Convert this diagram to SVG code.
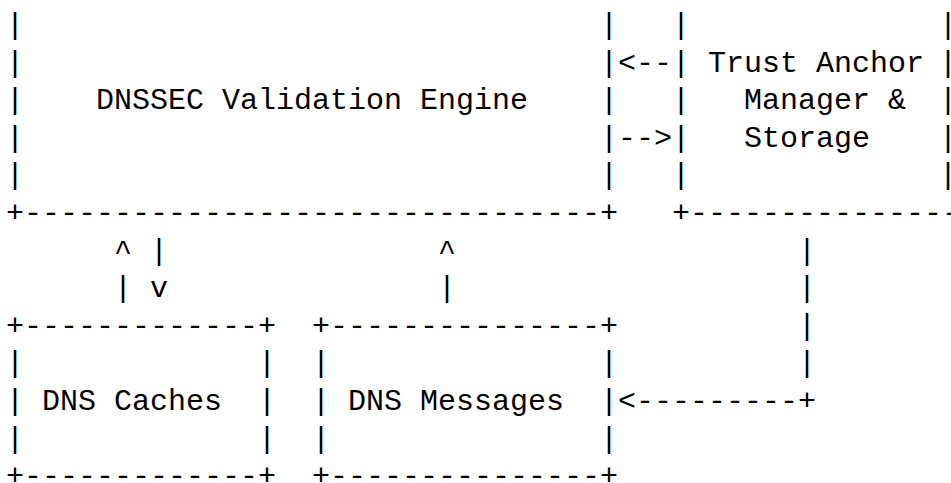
<svg xmlns="http://www.w3.org/2000/svg" width="951" height="483" viewBox="0 0 951 483" xml:space="preserve">
<style>
text{font-family:"Liberation Mono","DejaVu Sans Mono",monospace;font-size:30px;fill:#000;white-space:pre}
</style>
<rect width="951" height="483" fill="#fff"/>
<g id="engine">
<text x="6" y="34">|</text><text x="600" y="34">|</text>
<text x="6" y="71.6">|</text><text x="600" y="71.6">|</text>
<text x="6" y="109.2">|</text><text x="600" y="109.2">|</text>
<text x="6" y="146.8">|</text><text x="600" y="146.8">|</text>
<text x="6" y="184.4">|</text><text x="600" y="184.4">|</text>
<text x="6" y="222">+--------------------------------+</text>
<text x="96" y="109.2">DNSSEC Validation Engine</text>
</g>
<g id="trust-anchor">
<text x="672" y="34">|</text><text x="939" y="34">|</text>
<text x="672" y="71.6">|</text><text x="939" y="71.6">|</text>
<text x="672" y="109.2">|</text><text x="939" y="109.2">|</text>
<text x="672" y="146.8">|</text><text x="939" y="146.8">|</text>
<text x="672" y="184.4">|</text><text x="939" y="184.4">|</text>
<text x="672" y="222">+---------------</text>
<text x="708" y="71.6">Trust Anchor</text>
<text x="744" y="109.2">Manager &amp;</text>
<text x="744" y="146.8">Storage</text>
</g>
<g id="caches">
<text x="6" y="334.8">+-------------+</text>
<text x="6" y="372.4">|</text><text x="258" y="372.4">|</text>
<text x="6" y="410">|</text><text x="258" y="410">|</text>
<text x="6" y="447.6">|</text><text x="258" y="447.6">|</text>
<text x="6" y="485.2">+-------------+</text>
<text x="42" y="410">DNS Caches</text>
</g>
<g id="messages">
<text x="312" y="334.8">+---------------+</text>
<text x="312" y="372.4">|</text><text x="600" y="372.4">|</text>
<text x="312" y="410">|</text><text x="600" y="410">|</text>
<text x="312" y="447.6">|</text><text x="600" y="447.6">|</text>
<text x="312" y="485.2">+---------------+</text>
<text x="348" y="410">DNS Messages</text>
</g>
<g id="connectors">
<text x="618" y="71.6">&lt;--</text>
<text x="618" y="146.8">--&gt;</text>
<text x="114" y="259.6">^</text><text x="150" y="259.6">|</text>
<text x="114" y="297.2">|</text><text x="150" y="297.2">v</text>
<text x="438" y="259.6">^</text>
<text x="438" y="297.2">|</text>
<text x="798" y="259.6">|</text>
<text x="798" y="297.2">|</text>
<text x="798" y="334.8">|</text>
<text x="798" y="372.4">|</text>
<text x="618" y="410">&lt;---------+</text>
</g>
</svg>
